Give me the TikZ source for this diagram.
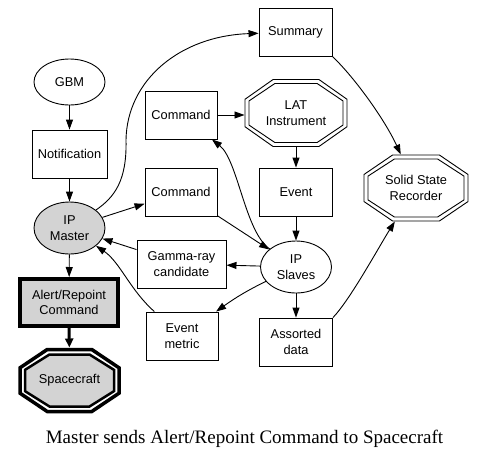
\documentclass[tikz,border=0pt]{standalone}
\usepackage{fontspec}
\setmainfont{Liberation Sans}
\newfontfamily\capfont{Liberation Serif}
\usetikzlibrary{arrows.meta,shapes.geometric}
\definecolor{lg}{HTML}{D3D3D3}
\newcommand\drawoct[4]{%
  \draw[#4, shift={(#1)}] ({-0.45*#2},{-#3}) -- ({0.45*#2},{-#3}) -- ({#2},{-0.41*#3}) -- ({#2},{0.41*#3}) -- ({0.45*#2},{#3}) -- ({-0.45*#2},{#3}) -- ({-#2},{0.41*#3}) -- ({-#2},{-0.41*#3}) -- cycle;}
\begin{document}
\begin{tikzpicture}[x=1pt,y=-1pt,
  lab/.style={font=\fontsize{12.8}{15.5}\selectfont, align=center, inner sep=0pt},
  box/.style={lab, draw, line width=0.9pt, minimum height=48pt, minimum width=#1},
  ell/.style={lab, draw, ellipse, line width=0.9pt, minimum width=71pt, minimum height=#1},
  oct/.style={lab, rectangle, minimum width=#1, outer sep=0pt},
  conn/.style={line width=0.9pt, -{Triangle[length=10pt,width=7pt]}},
  boldconn/.style={line width=3pt, -{Triangle[length=9pt,width=8pt]}},
]
\fill[white] (0,0) rectangle (487,467);
\useasboundingbox (0,0) rectangle (487,467);

\node[box=73pt] (summary) at (295.5,32) {Summary};
\node[ell=46pt] (gbm) at (69.5,82) {GBM};
\node[box=72pt] (cmd1) at (181,115) {Command};
\coordinate (latc) at (296,113);
\drawoct{latc}{51}{33.5}{line width=0.9pt}
\drawoct{latc}{47}{29.5}{line width=0.9pt}
\node[oct=103pt, minimum height=68pt] (lat) at (latc) {LAT\\Instrument};
\node[box=75pt] (notif) at (69.5,154) {Notification};
\node[box=72pt] (cmd2) at (181,192) {Command};
\node[box=73pt] (event) at (296,192) {Event};
\coordinate (ssrc) at (416,188);
\drawoct{ssrc}{52}{33}{line width=0.9pt}
\drawoct{ssrc}{48}{29}{line width=0.9pt}
\node[oct=105pt, minimum height=67pt] (ssr) at (ssrc) {Solid State\\Recorder};
\node[ell=52pt, fill=lg] (master) at (69.5,228) {IP\\Master};
\node[box=89pt] (gamma) at (181.5,264) {Gamma-ray\\candidate};
\node[ell=52pt] (slaves) at (296,267) {IP\\Slaves};
\node[box=98pt, minimum height=47pt, line width=4pt, fill=lg] (alert) at (69,302.5) {Alert/Repoint\\Command};
\node[box=72pt] (emetric) at (182,336) {Event\\metric};
\node[box=73pt] (assorted) at (296,342) {Assorted\\data};
\coordinate (scc) at (69.5,380.5);
\drawoct{scc}{49.5}{31}{line width=3.5pt}
\drawoct{scc}{44.5}{26}{line width=2.5pt, fill=lg}
\node[oct=103pt, minimum height=66pt] (space) at (scc) {Spacecraft};

\node[font=\capfont\fontsize{19}{22}\selectfont, anchor=base, inner sep=0pt] (cap) at (244.5,443) {Master sends Alert/Repoint Command to Spacecraft};

\draw[conn] (gbm) -- (notif);
\draw[conn] (notif) -- (master);
\draw[conn] (master) -- (alert);
\draw[boldconn] (alert) -- (space);
\draw[conn] (master) .. controls (115,197) and (127,180) .. (126,140) .. controls (127,80) and (180,36) .. (summary);
\draw[conn] (master) -- (cmd2);
\draw[conn] (cmd1.east) -- (cmd1.east -| lat.west);
\draw[conn] (lat) -- (event);
\draw[conn] (event) -- (slaves);
\draw[conn] (cmd2) -- (slaves);
\draw[conn] (slaves) .. controls (245,232) and (238,160) .. (cmd1);
\draw[conn] (slaves) -- (gamma);
\draw[conn] (gamma) -- (master);
\draw[conn] (emetric) .. controls (130,290) and (120,262) .. (master);
\draw[conn] (slaves) .. controls (248,290) and (235,298) .. (emetric);
\draw[conn] (slaves) -- (assorted);
\draw[conn] (assorted.north east) .. controls (350,300) and (380,245) .. (ssr);
\draw[conn] (summary.south east) .. controls (355,78) and (385,120) .. (ssr);
\end{tikzpicture}
\end{document}
